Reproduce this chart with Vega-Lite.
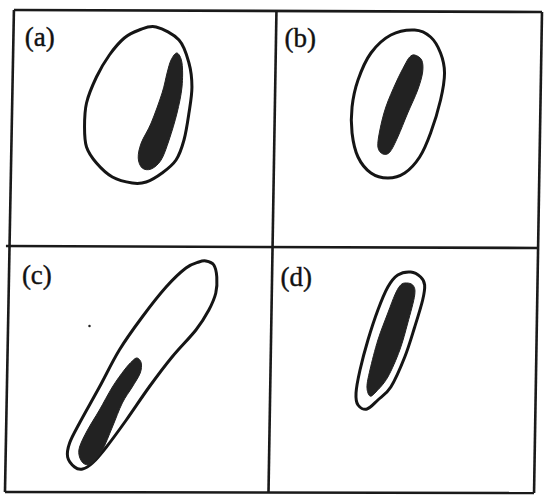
{
  "$schema": "https://vega.github.io/schema/vega-lite/v6.json",
  "width": 544,
  "height": 495,
  "autosize": {"type": "fit", "contains": "padding"},
  "padding": 0,
  "background": "white",
  "config": {"view": {"stroke": null}},
  "datasets": {
    "outer": [
      {"panel": "a", "o": 1, "x": 157, "y": 27}, {"panel": "a", "o": 2, "x": 180, "y": 40}, {"panel": "a", "o": 3, "x": 190, "y": 63}, {"panel": "a", "o": 4, "x": 193, "y": 87}, {"panel": "a", "o": 5, "x": 190, "y": 113}, {"panel": "a", "o": 6, "x": 185, "y": 140}, {"panel": "a", "o": 7, "x": 177, "y": 160}, {"panel": "a", "o": 8, "x": 163, "y": 173}, {"panel": "a", "o": 9, "x": 147, "y": 182}, {"panel": "a", "o": 10, "x": 133, "y": 183}, {"panel": "a", "o": 11, "x": 113, "y": 177}, {"panel": "a", "o": 12, "x": 97, "y": 163}, {"panel": "a", "o": 13, "x": 87, "y": 147}, {"panel": "a", "o": 14, "x": 85, "y": 127}, {"panel": "a", "o": 15, "x": 87, "y": 103}, {"panel": "a", "o": 16, "x": 97, "y": 77}, {"panel": "a", "o": 17, "x": 110, "y": 55}, {"panel": "a", "o": 18, "x": 125, "y": 38}, {"panel": "a", "o": 19, "x": 140, "y": 30},
      {"panel": "b", "o": 1, "x": 417, "y": 30}, {"panel": "b", "o": 2, "x": 433, "y": 37}, {"panel": "b", "o": 3, "x": 443, "y": 53}, {"panel": "b", "o": 4, "x": 447, "y": 73}, {"panel": "b", "o": 5, "x": 443, "y": 100}, {"panel": "b", "o": 6, "x": 433, "y": 133}, {"panel": "b", "o": 7, "x": 422, "y": 157}, {"panel": "b", "o": 8, "x": 407, "y": 173}, {"panel": "b", "o": 9, "x": 390, "y": 178}, {"panel": "b", "o": 10, "x": 373, "y": 173}, {"panel": "b", "o": 11, "x": 360, "y": 157}, {"panel": "b", "o": 12, "x": 354, "y": 133}, {"panel": "b", "o": 13, "x": 354, "y": 107}, {"panel": "b", "o": 14, "x": 360, "y": 80}, {"panel": "b", "o": 15, "x": 373, "y": 53}, {"panel": "b", "o": 16, "x": 393, "y": 35},
      {"panel": "c", "o": 1, "x": 207, "y": 261}, {"panel": "c", "o": 2, "x": 215, "y": 265}, {"panel": "c", "o": 3, "x": 218, "y": 277}, {"panel": "c", "o": 4, "x": 217, "y": 293}, {"panel": "c", "o": 5, "x": 210, "y": 310}, {"panel": "c", "o": 6, "x": 197, "y": 330}, {"panel": "c", "o": 7, "x": 173, "y": 357}, {"panel": "c", "o": 8, "x": 150, "y": 387}, {"panel": "c", "o": 9, "x": 127, "y": 420}, {"panel": "c", "o": 10, "x": 107, "y": 447}, {"panel": "c", "o": 11, "x": 93, "y": 463}, {"panel": "c", "o": 12, "x": 83, "y": 469}, {"panel": "c", "o": 13, "x": 75, "y": 467}, {"panel": "c", "o": 14, "x": 68, "y": 457}, {"panel": "c", "o": 15, "x": 70, "y": 443}, {"panel": "c", "o": 16, "x": 80, "y": 423}, {"panel": "c", "o": 17, "x": 100, "y": 387}, {"panel": "c", "o": 18, "x": 120, "y": 350}, {"panel": "c", "o": 19, "x": 143, "y": 317}, {"panel": "c", "o": 20, "x": 167, "y": 287}, {"panel": "c", "o": 21, "x": 187, "y": 268}, {"panel": "c", "o": 22, "x": 200, "y": 262},
      {"panel": "d", "o": 1, "x": 413, "y": 272}, {"panel": "d", "o": 2, "x": 423, "y": 277}, {"panel": "d", "o": 3, "x": 427, "y": 285}, {"panel": "d", "o": 4, "x": 425, "y": 300}, {"panel": "d", "o": 5, "x": 417, "y": 327}, {"panel": "d", "o": 6, "x": 407, "y": 357}, {"panel": "d", "o": 7, "x": 393, "y": 387}, {"panel": "d", "o": 8, "x": 380, "y": 400}, {"panel": "d", "o": 9, "x": 369, "y": 409}, {"panel": "d", "o": 10, "x": 360, "y": 405}, {"panel": "d", "o": 11, "x": 358, "y": 393}, {"panel": "d", "o": 12, "x": 362, "y": 370}, {"panel": "d", "o": 13, "x": 370, "y": 340}, {"panel": "d", "o": 14, "x": 380, "y": 310}, {"panel": "d", "o": 15, "x": 390, "y": 287}, {"panel": "d", "o": 16, "x": 400, "y": 275}
    ],
    "inner": [
      {"panel": "a", "o": 1, "x": 178, "y": 53}, {"panel": "a", "o": 2, "x": 183, "y": 63}, {"panel": "a", "o": 3, "x": 183, "y": 87}, {"panel": "a", "o": 4, "x": 178, "y": 113}, {"panel": "a", "o": 5, "x": 170, "y": 140}, {"panel": "a", "o": 6, "x": 162, "y": 160}, {"panel": "a", "o": 7, "x": 152, "y": 169}, {"panel": "a", "o": 8, "x": 143, "y": 168}, {"panel": "a", "o": 9, "x": 139, "y": 158}, {"panel": "a", "o": 10, "x": 142, "y": 143}, {"panel": "a", "o": 11, "x": 152, "y": 123}, {"panel": "a", "o": 12, "x": 163, "y": 93}, {"panel": "a", "o": 13, "x": 168, "y": 73}, {"panel": "a", "o": 14, "x": 172, "y": 60},
      {"panel": "b", "o": 1, "x": 417, "y": 55}, {"panel": "b", "o": 2, "x": 424, "y": 60}, {"panel": "b", "o": 3, "x": 425, "y": 72}, {"panel": "b", "o": 4, "x": 420, "y": 90}, {"panel": "b", "o": 5, "x": 410, "y": 113}, {"panel": "b", "o": 6, "x": 400, "y": 137}, {"panel": "b", "o": 7, "x": 392, "y": 152}, {"panel": "b", "o": 8, "x": 385, "y": 154}, {"panel": "b", "o": 9, "x": 380, "y": 147}, {"panel": "b", "o": 10, "x": 382, "y": 130}, {"panel": "b", "o": 11, "x": 388, "y": 107}, {"panel": "b", "o": 12, "x": 398, "y": 83}, {"panel": "b", "o": 13, "x": 407, "y": 65}, {"panel": "b", "o": 14, "x": 412, "y": 57},
      {"panel": "c", "o": 1, "x": 138, "y": 358}, {"panel": "c", "o": 2, "x": 142, "y": 363}, {"panel": "c", "o": 3, "x": 141, "y": 373}, {"panel": "c", "o": 4, "x": 133, "y": 387}, {"panel": "c", "o": 5, "x": 123, "y": 403}, {"panel": "c", "o": 6, "x": 113, "y": 427}, {"panel": "c", "o": 7, "x": 103, "y": 450}, {"panel": "c", "o": 8, "x": 93, "y": 463}, {"panel": "c", "o": 9, "x": 85, "y": 464}, {"panel": "c", "o": 10, "x": 80, "y": 457}, {"panel": "c", "o": 11, "x": 80, "y": 447}, {"panel": "c", "o": 12, "x": 88, "y": 430}, {"panel": "c", "o": 13, "x": 100, "y": 410}, {"panel": "c", "o": 14, "x": 113, "y": 387}, {"panel": "c", "o": 15, "x": 125, "y": 370}, {"panel": "c", "o": 16, "x": 133, "y": 361},
      {"panel": "d", "o": 1, "x": 407, "y": 283}, {"panel": "d", "o": 2, "x": 415, "y": 285}, {"panel": "d", "o": 3, "x": 417, "y": 295}, {"panel": "d", "o": 4, "x": 410, "y": 323}, {"panel": "d", "o": 5, "x": 402, "y": 350}, {"panel": "d", "o": 6, "x": 390, "y": 377}, {"panel": "d", "o": 7, "x": 378, "y": 392}, {"panel": "d", "o": 8, "x": 372, "y": 396}, {"panel": "d", "o": 9, "x": 369, "y": 387}, {"panel": "d", "o": 10, "x": 372, "y": 370}, {"panel": "d", "o": 11, "x": 380, "y": 340}, {"panel": "d", "o": 12, "x": 390, "y": 313}, {"panel": "d", "o": 13, "x": 397, "y": 295}, {"panel": "d", "o": 14, "x": 402, "y": 286}
    ],
    "frame": [
      {"x": 14, "y": 10, "x2": 545, "y2": 12},
      {"x": 545, "y": 12, "x2": 537, "y2": 493},
      {"x": 5, "y": 492, "x2": 537, "y2": 493},
      {"x": 14, "y": 10, "x2": 5, "y2": 492},
      {"x": 278, "y": 10, "x2": 270, "y2": 492},
      {"x": 6, "y": 246, "x2": 541, "y2": 248}
    ],
    "labels": [
      {"label": "(a)", "x": 25, "y": 46},
      {"label": "(b)", "x": 286, "y": 47},
      {"label": "(c)", "x": 22, "y": 284},
      {"label": "(d)", "x": 282, "y": 286}
    ],
    "dots": [
      {"x": 90, "y": 326}
    ]
  },
  "layer": [
    {
      "data": {"name": "frame"},
      "mark": {"type": "rule", "color": "#1a1a1a", "strokeWidth": 2.6},
      "encoding": {
        "x": {"field": "x", "type": "quantitative", "scale": {"domain": [0, 544], "nice": false, "zero": false}, "axis": null},
        "y": {"field": "y", "type": "quantitative", "scale": {"domain": [0, 495], "nice": false, "zero": false, "reverse": true}, "axis": null},
        "x2": {"field": "x2"},
        "y2": {"field": "y2"}
      }
    },
    {
      "data": {"name": "outer"},
      "mark": {"type": "line", "interpolate": "cardinal-closed", "color": "#151515", "strokeWidth": 3, "fill": "white"},
      "encoding": {
        "x": {"field": "x", "type": "quantitative"},
        "y": {"field": "y", "type": "quantitative"},
        "detail": {"field": "panel"},
        "order": {"field": "o", "type": "quantitative"}
      }
    },
    {
      "data": {"name": "inner"},
      "mark": {"type": "line", "interpolate": "cardinal-closed", "color": "#222222", "strokeWidth": 1, "fill": "#222222"},
      "encoding": {
        "x": {"field": "x", "type": "quantitative"},
        "y": {"field": "y", "type": "quantitative"},
        "detail": {"field": "panel"},
        "order": {"field": "o", "type": "quantitative"}
      }
    },
    {
      "data": {"name": "dots"},
      "mark": {"type": "point", "filled": true, "color": "#222", "size": 6, "opacity": 1},
      "encoding": {
        "x": {"field": "x", "type": "quantitative"},
        "y": {"field": "y", "type": "quantitative"}
      }
    },
    {
      "data": {"name": "labels"},
      "mark": {"type": "text", "align": "left", "baseline": "alphabetic", "font": "Liberation Serif", "fontSize": 27, "color": "#111111", "stroke": "#111111", "strokeWidth": 0.4},
      "encoding": {
        "x": {"field": "x", "type": "quantitative"},
        "y": {"field": "y", "type": "quantitative"},
        "text": {"field": "label"}
      }
    }
  ]
}
